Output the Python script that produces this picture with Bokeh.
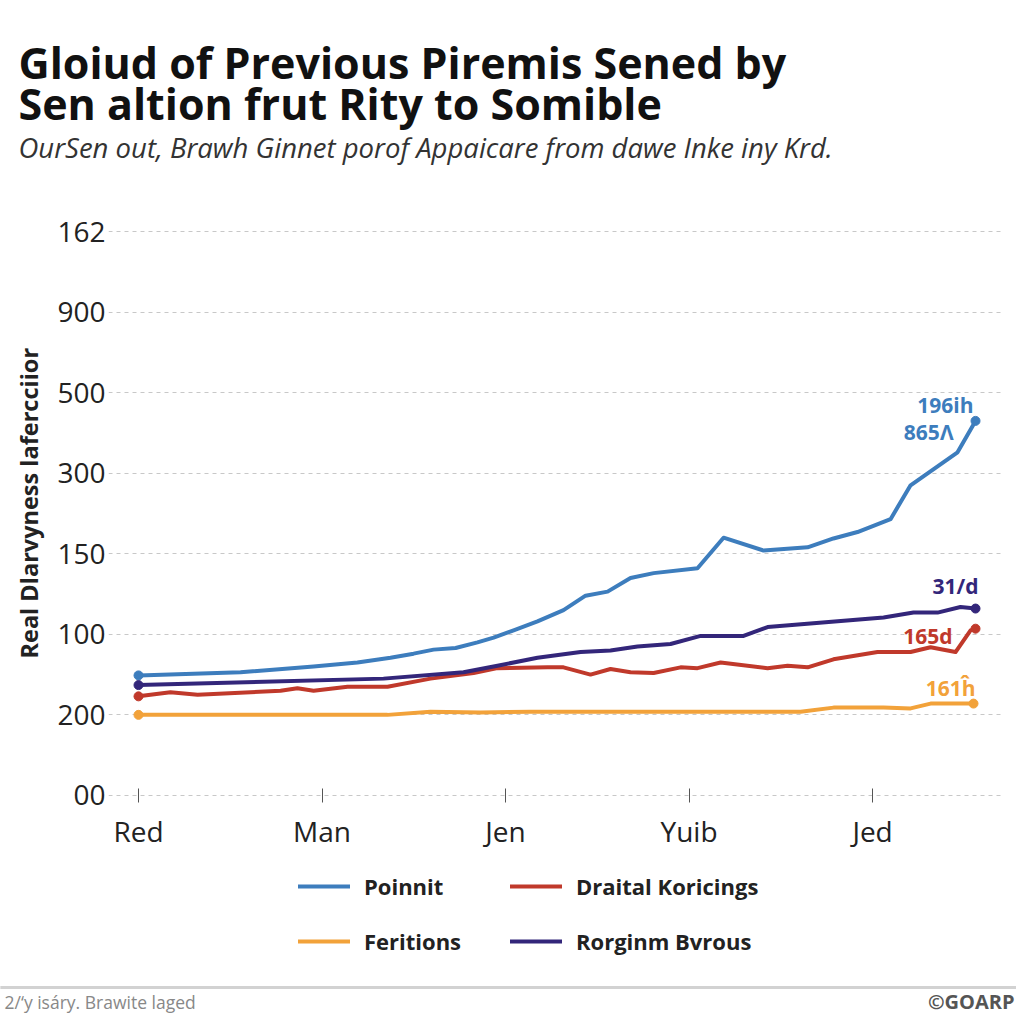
from bokeh.plotting import figure
from bokeh.models import (Range1d, FixedTicker, Label, Legend, LegendItem, Title)
from bokeh.embed import file_html
from bokeh.resources import INLINE

# ---------------- texts ----------------
TITLE_1 = "Gloiud of Previous Piremis Sened by"
TITLE_2 = "Sen altion frut Rity to Somible"
SUBTITLE = "OurSen out, Brawh Ginnet porof Appaicare from dawe Inke iny Krd."
Y_LABEL = "Real Dlarvyness lafercciior"
FOOTER_LEFT = "2/\u2018y is\u00e1ry. Brawite laged"
FOOTER_RIGHT = "\u00a9GOARP"

# ---------------- axes ----------------
x_tick_pos = [0, 10, 20, 30, 40]
x_tick_labels = ["Red", "Man", "Jen", "Yuib", "Jed"]
y_tick_pos = [0, 1, 2, 3, 4, 5, 6, 7]
y_tick_labels = ["00", "200", "100", "150", "300", "500", "900", "162"]

# ---------------- series ----------------
names = ["Poinnit", "Draital Koricings", "Feritions", "Rorginm Bvrous"]
colors = ["#3d7dbd", "#c0392b", "#f2a23a", "#33267a"]

blue_x = [0, 5.56, 9.54, 11.93, 13.73, 14.99, 16.08, 17.28, 18.47, 19.35, 20.44,
          21.74, 23.16, 24.36, 25.56, 26.81, 28.07, 30.46, 31.88, 34.06, 36.46,
          37.87, 39.18, 40.98, 42.07, 44.63, 45.61]
blue_y = [1.49, 1.53, 1.60, 1.65, 1.71, 1.76, 1.81, 1.83, 1.90, 1.96, 2.05,
          2.16, 2.30, 2.48, 2.53, 2.70, 2.76, 2.82, 3.20, 3.04, 3.08,
          3.19, 3.27, 3.43, 3.85, 4.26, 4.65]

red_x = [0, 1.74, 3.22, 7.74, 8.66, 9.54, 11.39, 13.57, 15.91, 18.26, 19.56,
         22.29, 23.16, 24.63, 25.72, 26.81, 28.07, 29.54, 30.46, 31.72, 34.28,
         35.37, 36.46, 37.87, 40.27, 42.07, 43.16, 44.52, 45.34, 45.61]
red_y = [1.23, 1.28, 1.25, 1.30, 1.33, 1.30, 1.35, 1.35, 1.45, 1.52, 1.58,
         1.59, 1.59, 1.50, 1.57, 1.53, 1.52, 1.59, 1.58, 1.65, 1.58,
         1.61, 1.59, 1.69, 1.78, 1.78, 1.84, 1.78, 2.05, 2.07]

orange_x = [0, 13.57, 15.91, 18.64, 21.36, 36.08, 37.87, 40.60, 42.07, 43.16, 45.50]
orange_y = [1.00, 1.00, 1.04, 1.03, 1.04, 1.04, 1.09, 1.09, 1.08, 1.14, 1.14]

purple_x = [0, 13.35, 17.71, 19.56, 21.74, 24.09, 25.72, 27.19, 28.99, 30.63,
            32.97, 34.28, 40.60, 42.23, 43.54, 44.79, 45.61]
purple_y = [1.37, 1.45, 1.53, 1.61, 1.71, 1.78, 1.80, 1.85, 1.88, 1.98,
            1.98, 2.09, 2.21, 2.27, 2.27, 2.34, 2.32]

# end-of-line annotations
blue_end_1 = "196ih"
blue_end_2 = "865\u039b"
purple_end = "31/d"
red_end = "165d"
orange_end = "161\u0125"

FONT = "Open Sans"
W = 1016
H = 1016

p = figure(width=W, height=H, x_range=Range1d(-1.635, 47.08), y_range=Range1d(-2.0, 7.2),
           output_backend="svg", toolbar_location=None,
           min_border_left=108, min_border_right=14, min_border_top=215, min_border_bottom=60)
p.outline_line_color = None
p.xgrid.visible = False
p.ygrid.ticker = FixedTicker(ticks=y_tick_pos)
p.ygrid.grid_line_color = "#c8c8c8"
p.ygrid.grid_line_dash = "4 4"
p.ygrid.grid_line_width = 1

p.xaxis.fixed_location = 0
p.xaxis.ticker = FixedTicker(ticks=x_tick_pos)
p.xaxis.major_label_overrides = {t: l for t, l in zip(x_tick_pos, x_tick_labels)}
p.xaxis.axis_line_color = None
p.xaxis.major_tick_line_color = "#555555"
p.xaxis.major_tick_in = 7
p.xaxis.major_tick_out = 7
p.xaxis.minor_tick_line_color = None
p.xaxis.major_label_text_font = FONT
p.xaxis.major_label_text_font_size = "28px"
p.xaxis.major_label_text_color = "#222222"
p.xaxis.major_label_standoff = 10

p.yaxis.ticker = FixedTicker(ticks=y_tick_pos)
p.yaxis.major_label_overrides = {t: l for t, l in zip(y_tick_pos, y_tick_labels)}
p.yaxis.axis_line_color = None
p.yaxis.major_tick_line_color = None
p.yaxis.minor_tick_line_color = None
p.yaxis.major_tick_out = 0
p.yaxis.major_tick_in = 0
p.yaxis.major_label_text_font = FONT
p.yaxis.major_label_text_font_size = "28px"
p.yaxis.major_label_text_color = "#222222"
p.yaxis.major_label_standoff = 3

# y-axis title, anchored at its lower end and lifted to sit beside the gridded area
p.add_layout(Title(text=Y_LABEL, align="left", offset=298, standoff=20,
                   text_font=FONT, text_font_style="bold", text_font_size="23.5px",
                   text_color="#222222"), "left")

series = [(blue_x, blue_y), (red_x, red_y), (orange_x, orange_y), (purple_x, purple_y)]
renderers = []
for (xs, ys), c in zip(series, colors):
    r = p.line(xs, ys, line_color=c, line_width=4, line_join="round", line_cap="round")
    p.scatter([xs[0], xs[-1]], [ys[0], ys[-1]], size=9, fill_color=c, line_color=c)
    renderers.append(r)

end_labels = [
    (blue_x, blue_y, blue_end_1, colors[0], -2, 16),
    (blue_x, blue_y, blue_end_2, colors[0], -22, -11),
    (purple_x, purple_y, purple_end, colors[3], 3, 23),
    (red_x, red_y, red_end, colors[1], -23, -7),
    (orange_x, orange_y, orange_end, colors[2], 2, 16),
]
for xs, ys, t, c, dx, dy in end_labels:
    p.add_layout(Label(x=xs[-1], y=ys[-1], text=t, x_offset=dx, y_offset=dy,
                       text_align="right", text_baseline="middle", text_font=FONT,
                       text_font_style="bold", text_font_size="21px", text_color=c))

legend = Legend(items=[LegendItem(label=n, renderers=[r]) for n, r in zip(names, renderers)],
                ncols=2, orientation="horizontal", location=(190, 0),
                glyph_width=52, glyph_height=30, label_standoff=14, label_width=121,
                label_height=30, spacing=25, padding=0, margin=0,
                border_line_color=None, background_fill_alpha=0,
                label_text_font=FONT, label_text_font_style="bold",
                label_text_font_size="22px", label_text_color="#222222")
p.add_layout(legend)

# header and footer texts (canvas pixel positions), placed in the top side panel
side_texts = [
    (18, 62, TITLE_1, "bold", "43px", "#111111", "left"),
    (18, 103, TITLE_2, "bold", "43px", "#111111", "left"),
    (18, 147, SUBTITLE, "italic", "27.5px", "#333333", "left"),
    (4, 1001, FOOTER_LEFT, "normal", "17.5px", "#888888", "left"),
    (1014, 1001, FOOTER_RIGHT, "bold", "20px", "#555555", "right"),
]
for x, y, t, style, size, col, align in side_texts:
    p.add_layout(Label(x=x, y=y, x_units="canvas", y_units="canvas", text=t,
                       text_font=FONT, text_font_style=style, text_font_size=size,
                       text_color=col, text_baseline="middle", text_align=align,
                       text_line_height=1.0), "above")

# footer separator
p.add_layout(Label(x=W / 2, y=987, x_units="canvas", y_units="canvas", text=" ",
                   text_font_size="1px", text_align="center", text_baseline="middle",
                   background_fill_color="#d2d2d2", background_fill_alpha=1,
                   padding=(W // 2, 1)), "above")

open("out.html", "w").write(file_html(p, INLINE))
